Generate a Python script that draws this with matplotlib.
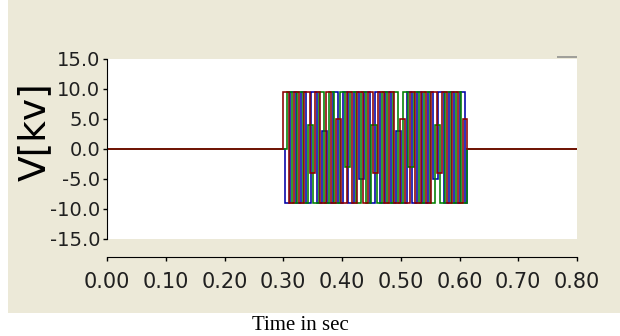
import numpy as np
import matplotlib
matplotlib.use("Agg")
import matplotlib.pyplot as plt
from matplotlib.patches import Rectangle

# ---- data ----
x_ticks = [0.00, 0.10, 0.20, 0.30, 0.40, 0.50, 0.60, 0.70, 0.80]
x_tick_labels = ["0.00", "0.10", "0.20", "0.30", "0.40", "0.50", "0.60", "0.70", "0.80"]
y_ticks = [15.0, 10.0, 5.0, 0.0, -5.0, -10.0, -15.0]
y_tick_labels = ["15.0", "10.0", "5.0", "0.0", "-5.0", "-10.0", "-15.0"]

t_start, t_burst_off, t_end = 0.0, 0.612, 0.80
level_step = 0.009                     # time each level is held (s)
phase_start = {"a": 0.300, "b": 0.303, "c": 0.306}

# levels held by each phase during the burst (kV)
phase_a = [9.5, -9, 9.5, -9, 9.5, -4, 9.5, -9, 9.5, -9, 5, -9, 9.5, -9, 9.5, -9, 9.5, -4,
           9.5, -9, 9.5, -9, 5, -9, 9.5, -9, 9.5, -9, 9.5, -4, 9.5, -9, 9.5, -9, 5]
phase_b = [-9, 9.5, -9, 9.5, -9, 9.5, -9, 3, -9, 9.5, -9, 9.5, -9, 9.5, -5, 9.5, -9, 9.5,
           -9, 9.5, -9, 3, -9, 9.5, -9, 9.5, -9, 9.5, -5, 9.5, -9, 9.5, -9, 9.5, -9]
phase_c = [9.5, -9, 9.5, -9, 4, -9, 9.5, -9, 9.5, -9, 9.5, -3, 9.5, -9, 9.5, -9, 4, -9,
           9.5, -9, 9.5, -9, 9.5, -3, 9.5, -9, 9.5, -9, 4, -9, 9.5, -9, 9.5, -9, 9.5]

colors = {"a": "#8B0000", "b": "#0000A8", "c": "#008000"}
beige = "#ECE9D8"

W, H = 620, 336
fig = plt.figure(figsize=(W / 100, H / 100), dpi=100)
fig.patch.set_facecolor("white")

# beige panel (behind axes)
fig.patches.append(Rectangle((8 / W, 1 - 313 / H), (W - 8) / W, 313 / H,
                             transform=fig.transFigure, facecolor=beige,
                             edgecolor="none", zorder=-10))
# small grey bar above plot top right
fig.patches.append(Rectangle((557 / W, 1 - 58 / H), 20 / W, 2 / H,
                             transform=fig.transFigure, facecolor="#A0A09A",
                             edgecolor="none", zorder=-5))

left, right, top, bottom = 107, 577, 59, 239
ax = fig.add_axes([left / W, 1 - bottom / H, (right - left) / W, (bottom - top) / H])
ax.set_zorder(1)
ax.set_facecolor("white")


def full_series(key, levels):
    n = len(levels)
    tb = phase_start[key] + level_step * np.arange(n)
    keep = tb < t_burst_off
    t = np.concatenate([[t_start], tb[keep], [t_burst_off, t_end]])
    v = np.concatenate([[0.0], np.asarray(levels, float)[keep], [0.0, 0.0]])
    return t, v


for key, vals in (("b", phase_b), ("c", phase_c), ("a", phase_a)):
    t, v = full_series(key, vals)
    ax.step(t, v, where="post", color=colors[key], lw=1.15,
            solid_joinstyle="miter")

ax.set_xlim(0, 0.80)
ax.set_ylim(-15, 15)
for s in ("top", "right"):
    ax.spines[s].set_visible(False)
ax.spines["left"].set_color("black")
ax.spines["bottom"].set_position(("outward", 13))
ax.spines["bottom"].set_color("black")

ax.set_xticks(x_ticks)
ax.set_xticklabels(x_tick_labels)
ax.set_yticks(y_ticks)
ax.set_yticklabels(y_tick_labels)
ax.tick_params(axis="y", direction="out", length=3, width=1, pad=2,
               labelsize=14, colors="black", labelcolor="#202020")
ax.tick_params(axis="x", direction="out", length=3, width=1, pad=8,
               labelsize=15, colors="black", labelcolor="#202020")

fig.text(35 / W, 1 - 132 / H, "V[kv]", rotation=90, ha="center", va="center",
         fontsize=27, color="black", family="DejaVu Sans")
fig.text(300 / W, 1.5 / H, "Time in sec", ha="center", va="bottom",
         fontsize=15, color="black", family="Liberation Serif")

fig.savefig("out.png", dpi=100, facecolor=fig.get_facecolor())
